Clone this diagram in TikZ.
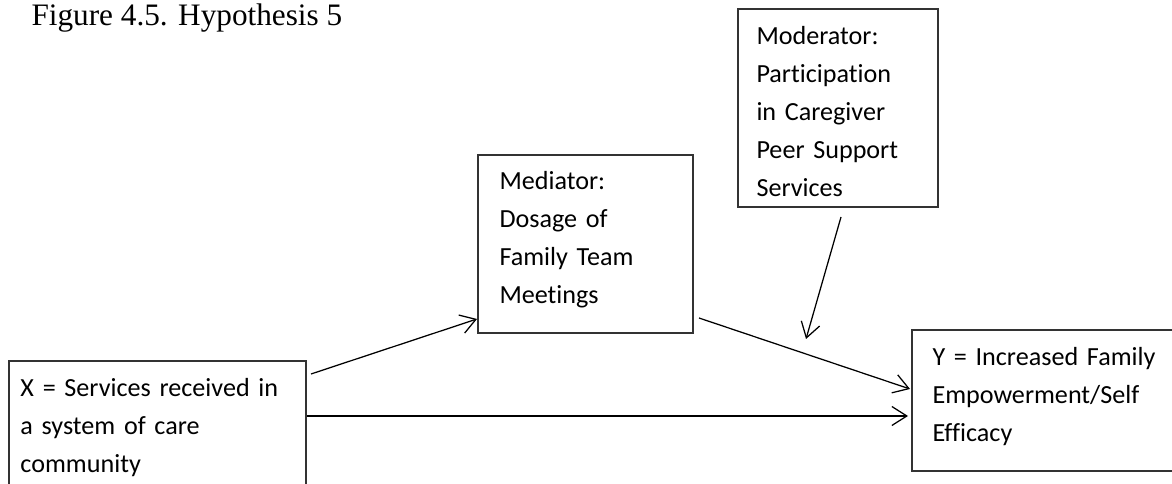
\documentclass[tikz,border=0pt]{standalone}
\usepackage{fontspec}
\setmainfont{Carlito}[Ligatures={NoCommon,NoRare,NoContextual}]
\newfontfamily\titlefont{Liberation Serif}
\usetikzlibrary{arrows.meta,calc}
\begin{document}
\begin{tikzpicture}[x=0.4pt,y=-0.4pt,
  box/.style={draw=black!80, line width=0.8pt, inner sep=0pt, anchor=north west, rectangle},
  txt/.style={anchor=base west, align=left, inner sep=0pt, text width=200pt,
    font=\fontsize{10.45pt}{15.2pt}\selectfont},
  conn/.style={draw=black, line width=0.5pt, -{Straight Barb[length=6pt,width=7.6pt]}}
]
\useasboundingbox (0,0) rectangle (1172,484);
\clip (0,0) rectangle (1172,484);

% title
\node[anchor=base west, inner sep=0pt, font=\titlefont\fontsize{12.5pt}{14pt}\selectfont] (title) at (31,26) {Figure 4.5. Hypothesis 5};

% boxes
\node[box, minimum width=118.8pt, minimum height=60pt] (X) at (8,360) {};
\node[box, minimum width=86pt, minimum height=71.2pt] (Med) at (477,154) {};
\node[box, minimum width=80pt, minimum height=79.2pt] (Mod) at (737,8) {};
\node[box, minimum width=111.6pt, minimum height=56.4pt] (Y) at (911,329) {};

% texts
\node[txt] (Xt) at (20,397) {X = Services received in\\a system of care\\community};
\node[txt] (Medt) at (499,190) {Mediator:\\Dosage of\\Family Team\\Meetings};
\node[txt] (Modt) at (756,45) {Moderator:\\Participation\\in Caregiver\\Peer Support\\Services};
\node[txt] (Yt) at (932,366) {Y = Increased Family\\Empowerment/Self\\Efficacy};

% connectors
\coordinate (modtip) at (806,339);
\draw[conn] ($(X.north east)+(4,14)$) -- ($(Med.north west)+(0,165)$);
\draw[conn] ($(X.north east)+(0,56)$) -- ($(Y.north west)+(-3,87)$);
\draw[conn] ($(Med.north east)+(5,164)$) -- ($(Y.north west)+(-1,60)$);
\draw[conn] ($(Mod.south west)+(104,9)$) -- (modtip);
\end{tikzpicture}
\end{document}
